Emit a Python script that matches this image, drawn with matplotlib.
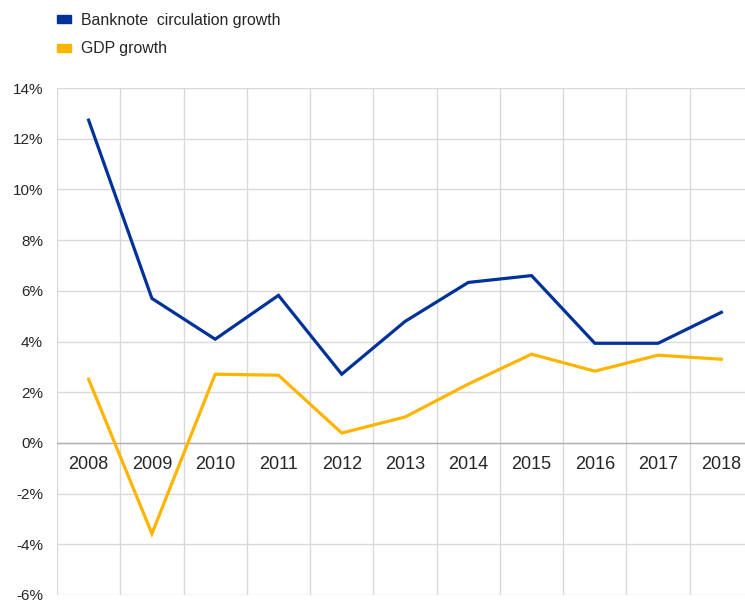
import matplotlib
matplotlib.use("Agg")
import matplotlib.pyplot as plt
from matplotlib.transforms import offset_copy
from matplotlib.patches import Rectangle

years = ["2008", "2009", "2010", "2011", "2012", "2013", "2014", "2015", "2016", "2017", "2018"]
banknote_growth = [12.73, 5.70, 4.09, 5.82, 2.71, 4.79, 6.33, 6.60, 3.93, 3.93, 5.15]
gdp_growth = [2.51, -3.58, 2.71, 2.67, 0.39, 1.02, 2.32, 3.50, 2.83, 3.46, 3.30]
y_ticks = [-6, -4, -2, 0, 2, 4, 6, 8, 10, 12, 14]

plt.rcParams['font.family'] = ['Liberation Sans', 'DejaVu Sans']

W, H = 745, 602
fig = plt.figure(figsize=(W / 100, H / 100), dpi=100)
left_px, right_px, top_px, bottom_px = 57, 753, 88, 595
ax = fig.add_axes([left_px / W, 1 - bottom_px / H, (right_px - left_px) / W, (bottom_px - top_px) / H])

blue = "#003299"
yellow = "#FFB400"
txt = "#262626"
x = list(range(len(years)))
ax.plot(x, banknote_growth, color=blue, lw=2.3, solid_joinstyle='miter', clip_on=False)
ax.plot(x, gdp_growth, color=yellow, lw=2.3, solid_joinstyle='miter', clip_on=False)

ax.set_xlim(-0.5, len(years) - 0.5)
ax.set_ylim(-6, 14)
ax.set_yticks(y_ticks)
ax.set_yticklabels([f"{v}%" for v in y_ticks], fontsize=11, color=txt)
ax.set_xticks([i + 0.5 for i in range(-1, len(years))])
ax.set_xticklabels([])
ax.tick_params(length=0, pad=10)
ax.grid(True, color="#d9d9d9", lw=1)
ax.set_axisbelow(True)
for s in ax.spines.values():
    s.set_visible(False)
ax.axhline(0, color="#b0b0b0", lw=1, zorder=1)

trans = offset_copy(ax.transData, fig=fig, x=0, y=-15.5, units='points')
for i, yr in enumerate(years):
    ax.text(i, 0, yr, transform=trans, ha='center', va='center', fontsize=13, color=txt)

# legend
handles = [Rectangle((0, 0), 1, 1, color=blue), Rectangle((0, 0), 1, 1, color=yellow)]
leg = fig.legend(handles, ["Banknote  circulation growth", "GDP growth"], loc='upper left',
                 bbox_to_anchor=(57 / W, 1 - 13 / H), frameon=False, fontsize=11.4,
                 borderpad=0, borderaxespad=0,
                 handlelength=0.9, handleheight=0.4, handletextpad=0.6, labelspacing=0.85)
for t in leg.get_texts():
    t.set_color(txt)

fig.savefig("out.png", dpi=100)
